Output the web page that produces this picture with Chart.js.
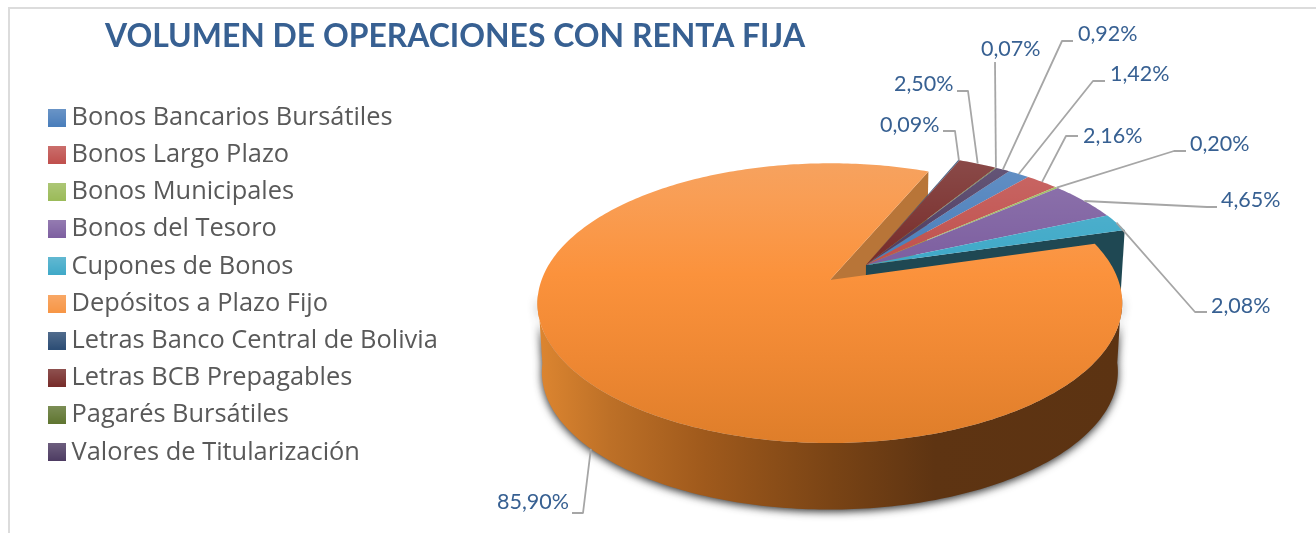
<!DOCTYPE html>
<html lang="es">
<head>
  <meta charset="UTF-8" />
  <title>Volumen de operaciones con renta fija</title>
  <script src="https://cdn.jsdelivr.net/npm/chart.js@4.4.0/dist/chart.umd.min.js"></script>
  <style>
    html, body { margin: 0; padding: 0; background: #fff; overflow: hidden; }
    #frame { position: absolute; left: 8px; top: 7px; width: 1400px; height: 600px; border: 2px solid #dcdcdc; box-sizing: border-box; }
    #wrap { position: absolute; left: 0; top: 0; width: 1316px; height: 533px; }
  </style>
</head>
<body>
  <div id="frame"></div>
  <div id="wrap"><canvas id="pie"></canvas></div>

  <script>
    const categories = [
      'Bonos Bancarios Bursátiles', 'Bonos Largo Plazo', 'Bonos Municipales', 'Bonos del Tesoro',
      'Cupones de Bonos', 'Depósitos a Plazo Fijo', 'Letras Banco Central de Bolivia',
      'Letras BCB Prepagables', 'Pagarés Bursátiles', 'Valores de Titularización'
    ];
    const shares = [1.42, 2.16, 0.20, 4.65, 2.08, 85.90, 0.09, 2.50, 0.07, 0.92];
    const palette = ['#4a7ebb', '#c0504d', '#9bbb59', '#7d5fa0', '#3fa9c8', '#f79646', '#2c4d75', '#772c2a', '#5f7530', '#4d3b62'];

    // label text left, text middle, elbow x, elbow y, tail x
    const labelSpots = [
      [1110, 74, 1093, 81, 1105],
      [1083, 136, 1066, 136, 1078],
      [1190, 144, 1174, 151, 1186],
      [1221, 200, 1207, 207, 1217],
      [1211, 306, 1195, 312, 1207],
      [497, 502, 583, 513, 572],
      [880, 125, 955, 131, 943],
      [894, 84, 968, 91, 957],
      [981, 49, 995, 62, 995],
      [1078, 34, 1062, 41, 1073]
    ];

    const explodedIndex = 5;
    const view = { cx: 832, cy: 279, R: 288, s: 135.7, k: 0.165, depth: 69, shrink: 0.985, gx: 0.12, gy: -0.105 };

    function project(u, v, bottom) {
      const U = u + view.gx, V = v + view.gy;
      const w = 1 - view.k * V;
      const f = bottom ? view.shrink : 1;
      return {
        x: view.cx + view.R * U / w * f,
        y: view.cy + view.s * V / w * f + (bottom ? view.depth : 0),
        V: V
      };
    }

    // world origin of a slice, from the arc the library laid out
    function sliceOrigin(arc) {
      const mid = (arc.startAngle + arc.endAngle) / 2;
      const d = (arc.options.offset || 0) / arc.outerRadius;
      return { u: d * Math.cos(mid), v: d * Math.sin(mid) };
    }

    function rimPoint(arc, a, bottom) {
      const o = sliceOrigin(arc);
      return project(o.u + Math.cos(a), o.v + Math.sin(a), bottom);
    }

    function rimPoints(arc, bottom) {
      const pts = [];
      const n = Math.max(2, Math.ceil((arc.endAngle - arc.startAngle) * 60));
      for (let i = 0; i <= n; i++) {
        pts.push(rimPoint(arc, arc.startAngle + (arc.endAngle - arc.startAngle) * i / n, bottom));
      }
      return pts;
    }

    function tracePoly(ctx, pts) {
      ctx.beginPath();
      pts.forEach((p, i) => i ? ctx.lineTo(p.x, p.y) : ctx.moveTo(p.x, p.y));
      ctx.closePath();
    }

    function drawCutFace(ctx, arc, angle, fill) {
      const o = sliceOrigin(arc);
      tracePoly(ctx, [
        project(o.u, o.v, false), rimPoint(arc, angle, false),
        rimPoint(arc, angle, true), project(o.u, o.v, true)
      ]);
      ctx.fillStyle = fill;
      ctx.fill();
    }

    function drawTop(ctx, arc, fill) {
      const o = sliceOrigin(arc);
      tracePoly(ctx, [project(o.u, o.v, false)].concat(rimPoints(arc, false)));
      ctx.fillStyle = fill;
      ctx.fill();
    }

    const pie3d = {
      id: 'pie3d',
      afterLayout(chart) {
        chart.titleBlock.left = 105;
        chart.legend.top = 93;
      },
      beforeDatasetDraw() {
        return false;
      },
      afterDatasetsDraw(chart) {
        const ctx = chart.ctx;
        const arcs = chart.getDatasetMeta(0).data;
        const big = arcs[explodedIndex];
        ctx.save();

        // outer wall of the exploded slice
        const top = rimPoints(big, false).filter(p => p.V > 0.1);
        const low = rimPoints(big, true).filter(p => p.V > 0.1);
        const wall = ctx.createLinearGradient(540, 0, 1120, 0);
        wall.addColorStop(0, '#dc8530');
        wall.addColorStop(0.12, '#bd7027');
        wall.addColorStop(0.28, '#a05a1c');
        wall.addColorStop(0.5, '#7a4415');
        wall.addColorStop(0.68, '#5e3412');
        wall.addColorStop(1, '#5c3312');
        ctx.save();
        ctx.shadowColor = 'rgba(20,20,20,0.9)';
        ctx.shadowBlur = 9;
        ctx.shadowOffsetY = 2;
        tracePoly(ctx, top.concat(low.slice().reverse()));
        ctx.fillStyle = wall;
        ctx.fill();
        ctx.restore();

        // faces seen through the gap
        drawCutFace(ctx, big, big.endAngle, '#b87538');
        drawCutFace(ctx, arcs[explodedIndex - 1], arcs[explodedIndex - 1].endAngle, '#1f4853');

        // small slices, lighter toward the rim
        const sheen = ctx.createLinearGradient(0, 160, 0, 262);
        sheen.addColorStop(0, 'rgba(255,255,255,0.14)');
        sheen.addColorStop(1, 'rgba(255,255,255,0)');
        arcs.forEach((arc, i) => {
          if (i === explodedIndex) return;
          drawTop(ctx, arc, palette[i]);
          drawTop(ctx, arc, sheen);
        });

        const face = ctx.createLinearGradient(0, 163, 0, 441);
        face.addColorStop(0, '#f6a25f');
        face.addColorStop(0.12, '#f99e55');
        face.addColorStop(0.4, '#fb923c');
        face.addColorStop(0.7, '#ef8833');
        face.addColorStop(1, '#df7e2a');
        drawTop(ctx, big, face);

        // leader lines and value labels
        ctx.lineWidth = 1.8;
        ctx.strokeStyle = '#a6a6a6';
        ctx.lineJoin = 'round';
        ctx.font = '21.5px Lato';
        ctx.textAlign = 'left';
        ctx.textBaseline = 'middle';
        arcs.forEach((arc, i) => {
          const spot = labelSpots[i];
          const mid = (arc.startAngle + arc.endAngle) / 2;
          const a = rimPoint(arc, mid, i === explodedIndex);
          ctx.beginPath();
          ctx.moveTo(a.x, a.y);
          ctx.lineTo(spot[2], spot[3]);
          ctx.lineTo(spot[4], spot[3]);
          ctx.stroke();
          ctx.fillStyle = '#376092';
          ctx.fillText(shares[i].toFixed(2).replace('.', ',') + '%', spot[0], spot[1]);
        });
        ctx.restore();
      }
    };

    function swatch(color) {
      const c = document.createElement('canvas');
      c.width = 18;
      c.height = 18;
      const g = c.getContext('2d');
      g.fillStyle = color;
      g.fillRect(0, 0, 18, 18);
      const s = g.createLinearGradient(0, 0, 0, 18);
      s.addColorStop(0, 'rgba(255,255,255,0.18)');
      s.addColorStop(1, 'rgba(255,255,255,0)');
      g.fillStyle = s;
      g.fillRect(0, 0, 18, 18);
      return c;
    }

    new Chart(document.getElementById('pie'), {
      type: 'pie',
      data: {
        labels: categories,
        datasets: [{
          data: shares,
          backgroundColor: palette,
          borderWidth: 0,
          offset: shares.map((v, i) => i === explodedIndex ? 35 : 0)
        }]
      },
      options: {
        responsive: true,
        maintainAspectRatio: false,
        animation: false,
        rotation: 36,
        layout: { padding: { left: 43, top: 0 } },
        plugins: {
          tooltip: { enabled: false },
          title: {
            display: true,
            text: 'VOLUMEN DE OPERACIONES CON RENTA FIJA',
            align: 'start',
            color: '#376092',
            font: { family: 'Lato', size: 31.9, weight: 'bold' },
            padding: { top: 18, bottom: 30 }
          },
          legend: {
            position: 'left',
            align: 'start',
            labels: {
              usePointStyle: true,
              boxWidth: 4,
              boxHeight: 18,
              padding: 11.8,
              color: '#595959',
              font: { family: 'Open Sans', size: 25.4 },
              generateLabels(chart) {
                const items = Chart.overrides.pie.plugins.legend.labels.generateLabels(chart);
                items.forEach((item, i) => { item.pointStyle = swatch(palette[i]); });
                return items;
              }
            }
          }
        }
      },
      plugins: [pie3d]
    });
  </script>
</body>
</html>
